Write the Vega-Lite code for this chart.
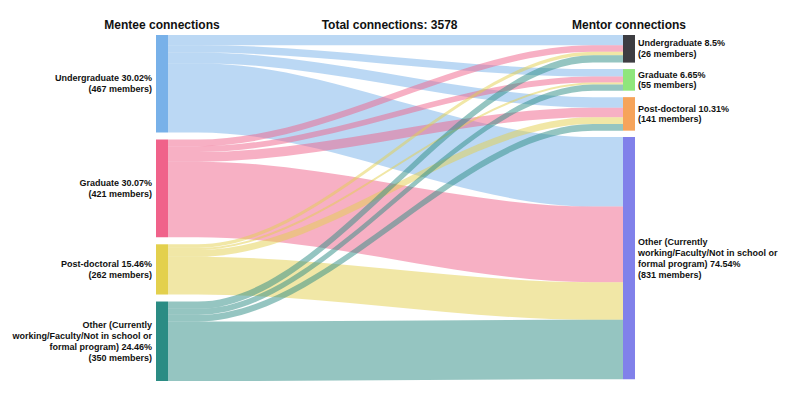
{
  "$schema": "https://vega.github.io/schema/vega-lite/v6.json",
  "width": 792,
  "height": 346,
  "autosize": {"type": "none"},
  "padding": {"top": 35, "left": 0, "right": 0, "bottom": 32},
  "background": "white",
  "config": {"view": {"stroke": null}, "font": "Liberation Sans"},
  "datasets": {
    "links": [
      {"mentee": "Undergraduate", "mentor": "Undergraduate", "si": 0, "ti": 0, "n": 112},
      {"mentee": "Undergraduate", "mentor": "Graduate", "si": 0, "ti": 1, "n": 82},
      {"mentee": "Undergraduate", "mentor": "Post-doctoral", "si": 0, "ti": 2, "n": 116},
      {"mentee": "Undergraduate", "mentor": "Other", "si": 0, "ti": 3, "n": 764},
      {"mentee": "Graduate", "mentor": "Undergraduate", "si": 1, "ti": 0, "n": 73},
      {"mentee": "Graduate", "mentor": "Graduate", "si": 1, "ti": 1, "n": 65},
      {"mentee": "Graduate", "mentor": "Post-doctoral", "si": 1, "ti": 2, "n": 105},
      {"mentee": "Graduate", "mentor": "Other", "si": 1, "ti": 3, "n": 833},
      {"mentee": "Post-doctoral", "mentor": "Undergraduate", "si": 2, "ti": 0, "n": 39},
      {"mentee": "Post-doctoral", "mentor": "Graduate", "si": 2, "ti": 1, "n": 24},
      {"mentee": "Post-doctoral", "mentor": "Post-doctoral", "si": 2, "ti": 2, "n": 75},
      {"mentee": "Post-doctoral", "mentor": "Other", "si": 2, "ti": 3, "n": 415},
      {"mentee": "Other", "mentor": "Undergraduate", "si": 3, "ti": 0, "n": 80},
      {"mentee": "Other", "mentor": "Graduate", "si": 3, "ti": 1, "n": 67},
      {"mentee": "Other", "mentor": "Post-doctoral", "si": 3, "ti": 2, "n": 73},
      {"mentee": "Other", "mentor": "Other", "si": 3, "ti": 3, "n": 655}
    ],
    "nodes": [
      {"side": "Mentee", "key": "Mentee Undergraduate", "order": 0, "n": 1074, "label": "Undergraduate 30.02%\n(467 members)"},
      {"side": "Mentee", "key": "Mentee Graduate", "order": 1, "n": 1076, "label": "Graduate 30.07%\n(421 members)"},
      {"side": "Mentee", "key": "Mentee Post-doctoral", "order": 2, "n": 553, "label": "Post-doctoral 15.46%\n(262 members)"},
      {"side": "Mentee", "key": "Mentee Other", "order": 3, "n": 875, "label": "Other (Currently\nworking/Faculty/Not in school or\nformal program) 24.46%\n(350 members)"},
      {"side": "Mentor", "key": "Mentor Undergraduate", "order": 0, "n": 304, "label": "Undergraduate 8.5%\n(26 members)"},
      {"side": "Mentor", "key": "Mentor Graduate", "order": 1, "n": 238, "label": "Graduate 6.65%\n(55 members)"},
      {"side": "Mentor", "key": "Mentor Post-doctoral", "order": 2, "n": 369, "label": "Post-doctoral 10.31%\n(141 members)"},
      {"side": "Mentor", "key": "Mentor Other", "order": 3, "n": 2667, "label": "Other (Currently\nworking/Faculty/Not in school or\nformal program) 74.54%\n(831 members)"}
    ]
  },
  "resolve": {"scale": {"color": "independent"}},
  "layer": [
    {
      "data": {"name": "links"},
      "transform": [
        {"stack": "n", "groupby": [], "sort": [{"field": "si"}, {"field": "ti"}], "as": ["a0", "a1"]},
        {"stack": "n", "groupby": [], "sort": [{"field": "ti"}, {"field": "si"}], "as": ["b0", "b1"]},
        {"calculate": "datum.a0 + datum.si * 77", "as": "sTop"},
        {"calculate": "datum.a1 + datum.si * 77", "as": "sBot"},
        {"calculate": "datum.b0 + datum.ti * 71", "as": "tTop"},
        {"calculate": "datum.b1 + datum.ti * 71", "as": "tBot"},
        {"fold": ["sTop", "sTop", "tTop", "tTop"], "as": ["end", "top"]},
        {"calculate": "datum.end === 'sTop' ? datum.sBot : datum.tBot", "as": "bot"},
        {"window": [{"op": "row_number", "as": "step"}], "groupby": ["si", "ti"], "sort": [{"field": "end"}]}
      ],
      "mark": {"type": "area", "orient": "vertical", "interpolate": "monotone", "fillOpacity": 0.5},
      "encoding": {
        "x": {"field": "step", "type": "quantitative", "axis": null,
              "scale": {"type": "linear", "domain": [0, 1, 2, 3, 4, 5], "range": [156, 168, 198, 593, 623, 635], "nice": false, "zero": false}},
        "y": {"field": "top", "type": "quantitative", "axis": null, "stack": null,
              "scale": {"domain": [0, 3809], "reverse": true, "nice": false, "zero": false}},
        "y2": {"field": "bot"},
        "color": {"field": "mentee", "type": "nominal", "legend": null,
                  "scale": {"domain": ["Undergraduate", "Graduate", "Post-doctoral", "Other"],
                            "range": ["#78b1e9", "#f0628a", "#e3d04d", "#2b8c84"]}},
        "detail": {"field": "ti", "type": "nominal"}
      }
    },
    {
      "data": {"name": "nodes"},
      "transform": [
        {"stack": "n", "groupby": ["side"], "sort": [{"field": "order"}], "as": ["c0", "c1"]},
        {"calculate": "datum.side === 'Mentee' ? 77 : 71", "as": "gap"},
        {"calculate": "datum.c0 + datum.order * datum.gap", "as": "top"},
        {"calculate": "datum.c1 + datum.order * datum.gap", "as": "bot"},
        {"calculate": "datum.side === 'Mentee' ? 0 : 4", "as": "col"},
        {"calculate": "datum.col + 1", "as": "col2"}
      ],
      "mark": {"type": "rect"},
      "encoding": {
        "x": {"field": "col", "type": "quantitative", "axis": null,
              "scale": {"type": "linear", "domain": [0, 1, 2, 3, 4, 5], "range": [156, 168, 198, 593, 623, 635], "nice": false, "zero": false}},
        "x2": {"field": "col2"},
        "y": {"field": "top", "type": "quantitative", "axis": null,
              "scale": {"domain": [0, 3809], "reverse": true, "nice": false, "zero": false}},
        "y2": {"field": "bot"},
        "color": {"field": "key", "type": "nominal", "legend": null,
                  "scale": {"domain": ["Mentee Undergraduate", "Mentee Graduate", "Mentee Post-doctoral", "Mentee Other",
                                       "Mentor Undergraduate", "Mentor Graduate", "Mentor Post-doctoral", "Mentor Other"],
                            "range": ["#78b1e9", "#f0628a", "#e3d04d", "#2b8c84", "#3d3d42", "#8fe67c", "#f6a45b", "#8181ea"]}}
      }
    },
    {
      "data": {"name": "nodes"},
      "transform": [
        {"stack": "n", "groupby": ["side"], "sort": [{"field": "order"}], "as": ["c0", "c1"]},
        {"calculate": "(datum.c0 + datum.c1) / 2 + datum.order * (datum.side === 'Mentee' ? 77 : 71)", "as": "mid"},
        {"calculate": "datum.mid - (length(split(datum.label, '\\n')) - 1) * 59", "as": "firstLine"},
        {"filter": "datum.side === 'Mentee'"}
      ],
      "mark": {"type": "text", "align": "right", "baseline": "middle", "dx": -4, "fontSize": 9, "fontWeight": "bold", "lineHeight": 10.8, "lineBreak": "\n", "color": "#111"},
      "encoding": {
        "x": {"datum": 0, "type": "quantitative"},
        "y": {"field": "firstLine", "type": "quantitative"},
        "text": {"field": "label"}
      }
    },
    {
      "data": {"name": "nodes"},
      "transform": [
        {"stack": "n", "groupby": ["side"], "sort": [{"field": "order"}], "as": ["c0", "c1"]},
        {"calculate": "(datum.c0 + datum.c1) / 2 + datum.order * (datum.side === 'Mentee' ? 77 : 71)", "as": "mid"},
        {"calculate": "datum.mid - (length(split(datum.label, '\\n')) - 1) * 59", "as": "firstLine"},
        {"filter": "datum.side === 'Mentor'"}
      ],
      "mark": {"type": "text", "align": "left", "baseline": "middle", "dx": 3, "fontSize": 9, "fontWeight": "bold", "lineHeight": 10.8, "lineBreak": "\n", "color": "#111"},
      "encoding": {
        "x": {"datum": 5, "type": "quantitative"},
        "y": {"field": "firstLine", "type": "quantitative"},
        "text": {"field": "label"}
      }
    },
    {
      "data": {"values": [{"heading": "Mentee connections"}]},
      "mark": {"type": "text", "align": "center", "baseline": "alphabetic", "fontSize": 12, "fontWeight": "bold", "color": "#111"},
      "encoding": {
        "x": {"datum": 0.5, "type": "quantitative"},
        "y": {"datum": -66, "type": "quantitative"},
        "text": {"field": "heading"}
      }
    },
    {
      "data": {"values": [{"heading": "Total connections: 3578"}]},
      "mark": {"type": "text", "align": "center", "baseline": "alphabetic", "fontSize": 12, "fontWeight": "bold", "color": "#111"},
      "encoding": {
        "x": {"datum": 2.485, "type": "quantitative"},
        "y": {"datum": -66, "type": "quantitative"},
        "text": {"field": "heading"}
      }
    },
    {
      "data": {"values": [{"heading": "Mentor connections"}]},
      "mark": {"type": "text", "align": "center", "baseline": "alphabetic", "fontSize": 12, "fontWeight": "bold", "color": "#111"},
      "encoding": {
        "x": {"datum": 4.5, "type": "quantitative"},
        "y": {"datum": -66, "type": "quantitative"},
        "text": {"field": "heading"}
      }
    }
  ]
}
